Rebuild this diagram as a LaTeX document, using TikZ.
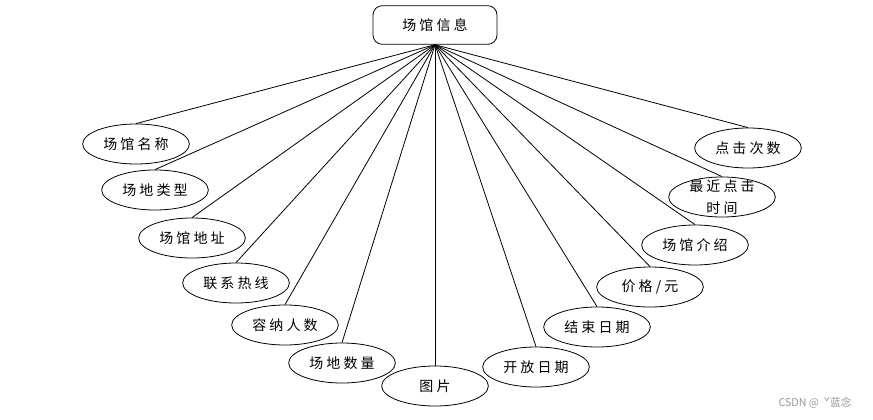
\documentclass[tikz,border=0pt]{standalone}
\usepackage{fontspec}
\setmainfont[LetterSpace=22]{Noto Sans CJK SC}
\newfontfamily\wmfont{Noto Sans CJK SC}
\usepackage{tikz}
\usetikzlibrary{shapes.geometric}
\definecolor{wmgray}{RGB}{150,150,150}

\begin{document}
\begin{tikzpicture}[x=0.75pt, y=-0.75pt, every node/.style={font=\fontsize{10.5pt}{13pt}\selectfont}]
\tikzset{attr/.style={draw, ellipse, fill=white, line width=0.6pt, minimum width=80pt, minimum height=30pt, inner sep=0pt},
         ent/.style={draw, rectangle, rounded corners=7pt, line width=0.6pt, minimum width=93pt, minimum height=29pt, inner sep=0pt},
         link/.style={line width=0.6pt}}
\useasboundingbox (0,0) rectangle (873,420);
\node[ent] (hall) at (435,25) {场馆信息};
% left side
\node[attr] (name)  at (136,144) {场馆名称};
\node[attr] (type)  at (155,190) {场地类型};
\node[attr] (addr)  at (192,238) {场馆地址};
\node[attr] (tel)   at (236,283) {联系热线};
\node[attr] (cap)   at (285,325) {容纳人数};
\node[attr] (num)   at (342,363) {场地数量};
\node[attr] (pic)   at (435,386) {图片};
% right side
\node[attr] (open)  at (536,367) {开放日期};
\node[attr] (close) at (597,327) {结束日期};
\node[attr] (price) at (650,287) {价格/元};
\node[attr] (intro) at (695,245) {场馆介绍};
\node[attr, label={[align=center, font=\fontsize{10.5pt}{16.5pt}\selectfont]center:最近点击\\时间}] (last) at (722,197) {};
\node[attr] (hits)  at (748,148) {点击次数};
\draw[link] (hall.south)--(name.north);
\draw[link] (hall.south)--(type.north);
\draw[link] (hall.south)--(addr.north);
\draw[link] (hall.south)--(tel.north);
\draw[link] (hall.south)--(cap.north);
\draw[link] (hall.south)--(num.north);
\draw[link] (hall.south)--(pic.north);
\draw[link] (hall.south)--(open.north);
\draw[link] (hall.south)--(close.north);
\draw[link] (hall.south)--(price.north);
\draw[link] (hall.south)--(intro.north);
\draw[link] (hall.south)--(last.north);
\draw[link] (hall.south)--(hits.north);
\node[text=wmgray, font=\wmfont\fontsize{8pt}{9pt}\selectfont] (mark) at (815,403) {CSDN @ \ ˇ蓝念};
\end{tikzpicture}
\end{document}
